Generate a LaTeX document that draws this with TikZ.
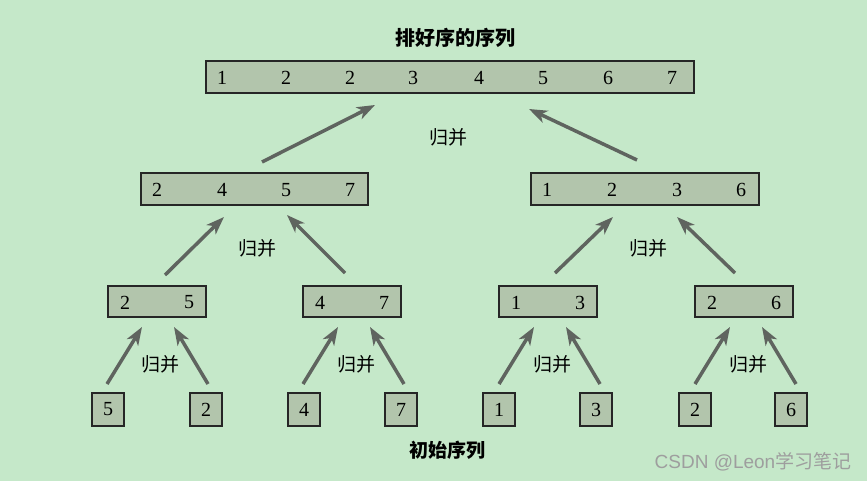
\documentclass[tikz,border=0pt]{standalone}
\usepackage{fontspec}
\setmainfont{Liberation Serif}
\newfontfamily\cjk{Noto Sans CJK SC}
\newfontfamily\wm{Liberation Sans}
\usetikzlibrary{arrows.meta}
\definecolor{bg}{RGB}{197,232,201}
\definecolor{boxfill}{RGB}{178,197,172}
\definecolor{arr}{RGB}{95,100,95}
\tikzset{
  seqbox/.style={draw=black!85, line width=1.1pt, fill=boxfill, minimum height=32pt, inner sep=0pt},
  num/.style={font=\fontsize{20}{20}\selectfont, inner sep=0pt},
  lbl/.style={font=\cjk\fontsize{19}{19}\selectfont, inner sep=0pt},
  mergearrow/.style={draw=arr, line width=3.5pt, -{Stealth[length=18pt,width=13pt,inset=5pt]}},
}
\begin{document}
\begin{tikzpicture}[x=1pt,y=-1pt]
\fill[bg] (0,0) rectangle (867,481);
\useasboundingbox (0,0) rectangle (867,481);

% titles
\node[lbl, font=\cjk\bfseries\fontsize{20}{20}\selectfont] (title) at (455,38) {排好序的序列};
\node[lbl, font=\cjk\bfseries\fontsize{19}{19}\selectfont] (init) at (447,450) {初始序列};

% top box
\node[seqbox, minimum width=488pt] (top) at (450,77) {};
\foreach \x/\v [count=\i] in {222/1,286/2,350/2,413/3,479/4,543/5,608/6,672/7}
  \node[num] (t\i) at (\x,78) {\v};

% level 2
\node[seqbox, minimum width=227pt] (L) at (254.5,189) {};
\foreach \x/\v [count=\i] in {157/2,222/4,286/5,350/7}
  \node[num] (l\i) at (\x,190) {\v};
\node[seqbox, minimum width=228pt] (R) at (645,189) {};
\foreach \x/\v [count=\i] in {547/1,612/2,677/3,741/6}
  \node[num] (r\i) at (\x,190) {\v};

% level 3
\foreach \cx/\a/\b [count=\i] in {157/2/5, 352/4/7, 548/1/3, 744/2/6} {
  \node[seqbox, minimum width=98pt, minimum height=31pt] (m\i) at (\cx,301.5) {};
  \node[num] at (\cx-32,302.5) {\a};
  \node[num] at (\cx+32,302.5) {\b};
}

% leaves
\foreach \x/\v [count=\i] in {108/5,206/2,304/4,401/7,499/1,596/3,695/2,791/6}
  \node[seqbox, minimum width=32pt, minimum height=33pt, font=\fontsize{20}{20}\selectfont] (b\i) at (\x,409.5) {\v};

% merge labels
\node[lbl] (g0) at (448,137) {归并};
\node[lbl] (g1) at (257,248) {归并};
\node[lbl] (g2) at (648,248) {归并};
\foreach \x [count=\i] in {160,356,552,748}
  \node[lbl] (h\i) at (\x,364) {归并};

% arrow coordinates
\coordinate (a1s) at (262,162); \coordinate (a1e) at (375,105);
\coordinate (a2s) at (637,160); \coordinate (a2e) at (529,109);
\draw[mergearrow] (a1s) -- (a1e);
\draw[mergearrow] (a2s) -- (a2e);

\coordinate (c1s) at (165,275); \coordinate (c1e) at (224,217);
\coordinate (c2s) at (345,273); \coordinate (c2e) at (287,215);
\coordinate (c3s) at (555,273); \coordinate (c3e) at (613,217);
\coordinate (c4s) at (735,273); \coordinate (c4e) at (677,217);
\foreach \i in {1,2,3,4} \draw[mergearrow] (c\i s) -- (c\i e);

\foreach \dx [count=\i] in {0,196,392,588} {
  \coordinate (d\i a) at (107+\dx,384); \coordinate (e\i a) at (142+\dx,327);
  \coordinate (d\i b) at (208+\dx,384); \coordinate (e\i b) at (174+\dx,327);
  \draw[mergearrow] (d\i a) -- (e\i a);
  \draw[mergearrow] (d\i b) -- (e\i b);
}

% watermark
\node[font=\wm\fontsize{19}{19}\selectfont, text=black!38, inner sep=0pt] (wm) at (753,462) {CSDN @Leon{\cjk 学习笔记}};
\end{tikzpicture}
\end{document}
